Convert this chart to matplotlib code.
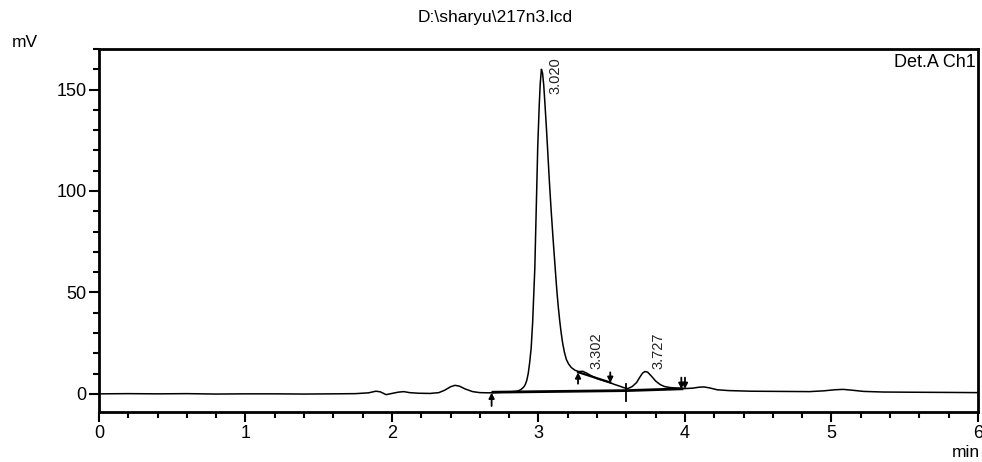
import matplotlib
matplotlib.use("Agg")
import matplotlib.pyplot as plt
from matplotlib.ticker import MultipleLocator

plt.rcParams["font.family"] = ["Liberation Sans", "DejaVu Sans"]

# detector trace, time in min and signal in mV
times = [0.00, 0.20, 0.40, 0.60, 0.80, 1.00, 1.20, 1.40, 1.60, 1.75,
         1.84, 1.89, 1.92, 1.96, 2.00, 2.04, 2.08, 2.12, 2.18, 2.26,
         2.32, 2.36, 2.40, 2.43, 2.46, 2.50, 2.55, 2.60, 2.66, 2.72,
         2.78, 2.83, 2.86, 2.88, 2.90, 2.91, 2.92, 2.93, 2.94, 2.95,
         2.96, 2.975, 2.985, 2.995, 3.005, 3.012, 3.020, 3.028, 3.036, 3.045,
         3.055, 3.065, 3.075, 3.086, 3.100, 3.111, 3.120, 3.127, 3.135, 3.145,
         3.155, 3.165, 3.177, 3.190, 3.205, 3.225, 3.250, 3.275, 3.302, 3.330,
         3.360, 3.400, 3.440, 3.480, 3.520, 3.550, 3.580, 3.610, 3.640, 3.670,
         3.690, 3.710, 3.727, 3.745, 3.770, 3.800, 3.830, 3.860, 3.900, 3.950,
         4.000, 4.050, 4.100, 4.130, 4.170, 4.220, 4.300, 4.450, 4.650, 4.850,
         4.950, 5.020, 5.080, 5.140, 5.220, 5.350, 5.550, 5.800, 6.000]
signal = [0.0, 0.1, 0.0, 0.1, -0.1, 0.0, 0.0, -0.1, 0.0, 0.1,
          0.5, 1.3, 1.0, -0.4, 0.2, 0.8, 1.1, 0.6, 0.3, 0.2,
          0.6, 1.8, 3.5, 4.2, 3.8, 2.4, 1.1, 0.6, 0.5, 0.7,
          0.9, 1.1, 1.4, 2.1, 3.4, 4.6, 6.6, 10.0, 15.5, 22.5,
          35.0, 62.0, 92.0, 122.0, 142.0, 153.0, 160.0, 158.0, 152.0, 142.0,
          130.0, 117.0, 104.0, 91.0, 76.0, 65.0, 56.0, 49.5, 43.0, 36.0,
          30.0, 25.0, 20.5, 17.0, 14.8, 12.9, 11.6, 11.0, 11.1, 10.2,
          8.9, 7.5, 6.6, 5.7, 4.6, 3.9, 3.1, 2.6, 3.6, 5.6,
          8.0, 10.2, 11.0, 10.7, 8.8, 6.3, 4.6, 3.6, 3.1, 2.8,
          2.6, 2.8, 3.3, 3.4, 2.9, 2.0, 1.6, 1.3, 1.2, 1.1,
          1.5, 2.0, 2.2, 1.8, 1.2, 0.9, 0.8, 0.7, 0.6]

# integrated peaks
peak_times = [3.020, 3.302, 3.727]
peak_heights = [160.0, 11.1, 11.0]
peak_labels = ["3.020", "3.302", "3.727"]

# drop-line baseline and tangent skim
baseline_t = [2.68, 3.60, 3.99]
baseline_v = [0.8, 1.6, 2.5]
skim_t = [3.27, 3.49]
skim_v = [10.7, 5.6]

# integration event marks: (time, tail mV, head mV)
start_marks = [(2.68, -6.0, 0.6), (3.27, 5.0, 10.6)]
end_marks = [(3.49, 10.6, 5.4), (3.975, 8.0, 2.4), (4.0, 8.0, 2.4)]
split_marks = [(3.60, -3.3, 5.0)]

fig = plt.figure(figsize=(9.82, 4.62), dpi=100)
ax = fig.add_axes([0.1008, 0.108, 0.8951, 0.786])

ax.plot(times, signal, color="black", lw=1.1)
ax.plot(baseline_t, baseline_v, color="black", lw=2.0, solid_capstyle="butt")
ax.plot(skim_t, skim_v, color="black", lw=1.6)

arrow = dict(arrowstyle="-|>", color="black", lw=1.3, mutation_scale=8,
             shrinkA=0, shrinkB=0)
for t, tail, head in start_marks + end_marks:
    ax.annotate("", xy=(t, head), xytext=(t, tail), arrowprops=arrow)
for t, lo, hi in split_marks:
    ax.plot([t, t], [lo, hi], color="black", lw=1.3)

ymin, ymax = -9, 170
for t, h, lab in zip(peak_times, peak_heights, peak_labels):
    if h + 22 > ymax:
        ax.annotate(lab, xy=(t, ymax), xytext=(10, -6),
                    textcoords="offset points", rotation=90,
                    ha="center", va="top", fontsize=10.5, color="#222222")
    else:
        ax.annotate(lab, xy=(t, h), xytext=(10, 2),
                    textcoords="offset points", rotation=90,
                    ha="center", va="bottom", fontsize=10.5, color="#222222")

ax.set_xlim(0, 6)
ax.set_ylim(ymin, ymax)
ax.xaxis.set_major_locator(MultipleLocator(1))
ax.xaxis.set_minor_locator(MultipleLocator(0.2))
ax.yaxis.set_major_locator(MultipleLocator(50))
ax.yaxis.set_minor_locator(MultipleLocator(10))
ax.tick_params(which="major", direction="out", length=7, width=1.5,
               labelsize=13, pad=2)
ax.tick_params(which="minor", direction="out", length=4, width=1.5)
for side in ax.spines.values():
    side.set_linewidth(2.0)

ax.text(0.997, 0.985, "Det.A Ch1", transform=ax.transAxes,
        ha="right", va="top", fontsize=13)
fig.text(0.012, 0.909, "mV", ha="left", va="center", fontsize=12.5)
fig.text(0.998, 0.02, "min", ha="right", va="center", fontsize=12.5)
fig.text(0.504, 0.962, "D:\\sharyu\\217n3.lcd", ha="center", va="center",
         fontsize=12.5)

fig.savefig("out.png", dpi=100)
